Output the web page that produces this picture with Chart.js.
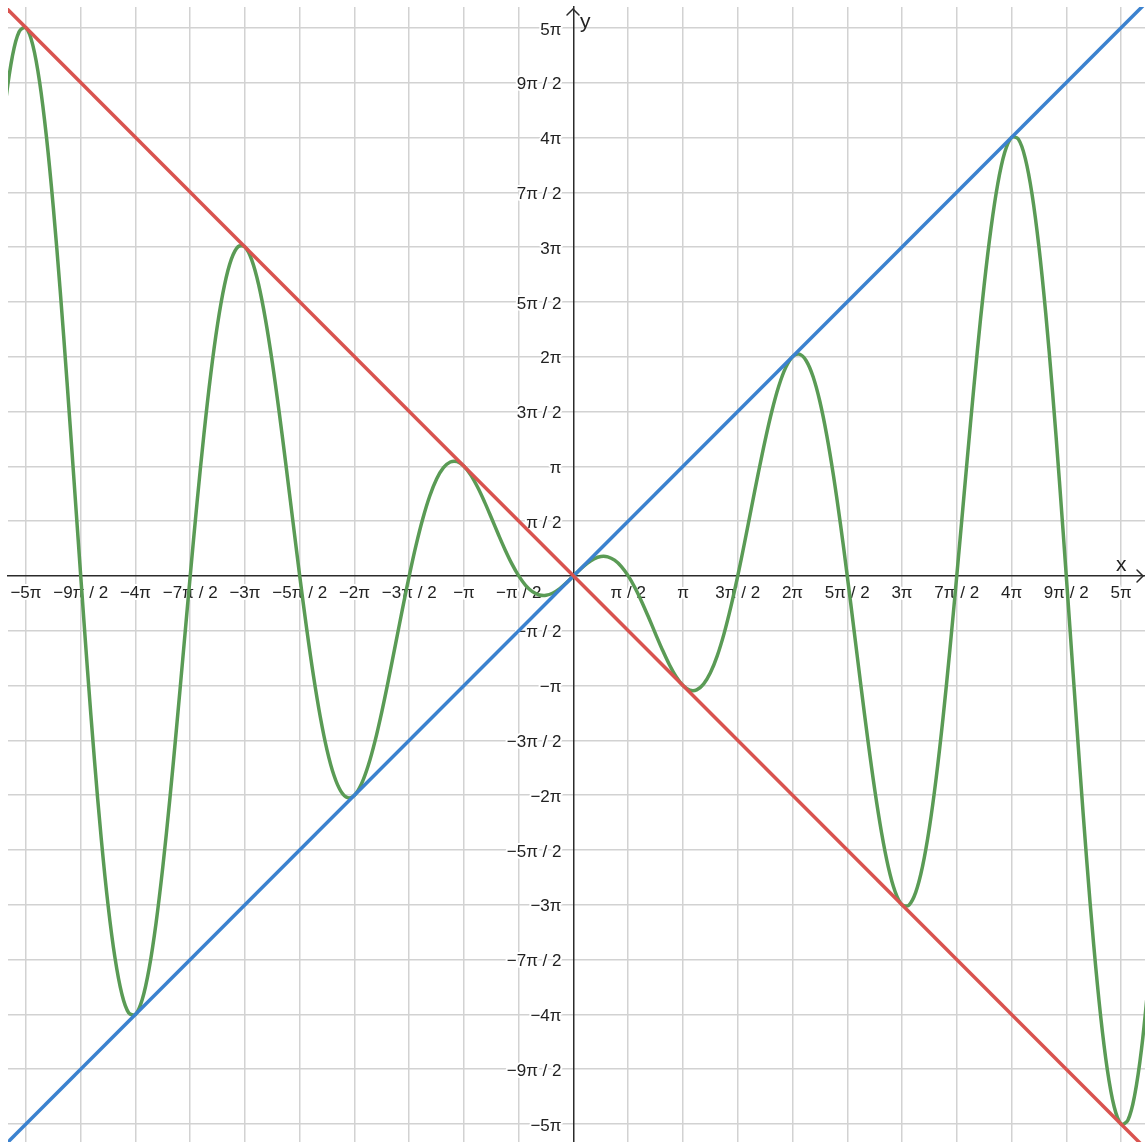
<!DOCTYPE html>
<html><head><meta charset="utf-8">
<script src="https://cdn.jsdelivr.net/npm/chart.js@4"></script>
<style>html,body{margin:0;padding:0;background:#fff;overflow:hidden}</style>
</head><body>
<canvas id="c" width="1145" height="1142"></canvas>
<script>
// All values are in units of π
const xRange = [-5.164, 5.219];
const yRange = [-5.164, 5.19];
const tickValues = [-5,-4.5,-4,-3.5,-3,-2.5,-2,-1.5,-1,-0.5,0.5,1,1.5,2,2.5,3,3.5,4,4.5,5];
const tickLabels = ["−5π","−9π / 2","−4π","−7π / 2","−3π","−5π / 2","−2π","−3π / 2","−π","−π / 2","π / 2","π","3π / 2","2π","5π / 2","3π","7π / 2","4π","9π / 2","5π"];

// y = x (blue) and y = −x (red)
const lineX = [-6, 6];
const blueY = [-6, 6];
const redY = [6, -6];

// green curve
const greenX = [-5.25,-5.1875,-5.125,-5.0625,-5,-4.9375,-4.875,-4.8125,-4.75,-4.6875,-4.625,-4.5625,-4.5,-4.4375,-4.375,-4.3125,-4.25,-4.1875,-4.125,-4.0625,-4,-3.9375,-3.875,-3.8125,-3.75,-3.6875,-3.625,-3.5625,-3.5,-3.4375,-3.375,-3.3125,-3.25,-3.1875,-3.125,-3.0625,-3,-2.9375,-2.875,-2.8125,-2.75,-2.6875,-2.625,-2.5625,-2.5,-2.4375,-2.375,-2.3125,-2.25,-2.1875,-2.125,-2.0625,-2,-1.9375,-1.875,-1.8125,-1.75,-1.6875,-1.625,-1.5625,-1.5,-1.4375,-1.375,-1.3125,-1.25,-1.1875,-1.125,-1.0625,-1,-0.9375,-0.875,-0.8125,-0.75,-0.6875,-0.625,-0.5625,-0.5,-0.4375,-0.375,-0.3125,-0.25,-0.1875,-0.125,-0.0625,0,
  0.0625,0.125,0.1875,0.25,0.3125,0.375,0.4375,0.5,0.5625,0.625,0.6875,0.75,0.8125,0.875,0.9375,1,1.0625,1.125,1.1875,1.25,1.3125,1.375,1.4375,1.5,1.5625,1.625,1.6875,1.75,1.8125,1.875,1.9375,2,2.0625,2.125,2.1875,2.25,2.3125,2.375,2.4375,2.5,2.5625,2.625,2.6875,2.75,2.8125,2.875,2.9375,3,3.0625,3.125,3.1875,3.25,3.3125,3.375,3.4375,3.5,3.5625,3.625,3.6875,3.75,3.8125,3.875,3.9375,4,4.0625,4.125,4.1875,4.25,4.3125,4.375,4.4375,4.5,4.5625,4.625,4.6875,4.75,4.8125,4.875,4.9375,5,5.0625,5.125,5.1875,5.25];
const greenY = [3.7123,4.3133,4.7349,4.9652,5,4.8427,4.5039,4.0015,3.3588,2.6042,1.7699,0.8901,0,-0.8657,-1.6742,-2.3959,-3.0052,-3.4818,-3.811,-3.9845,-4,-3.8619,-3.58,-3.17,-2.6517,-2.0487,-1.3872,-0.695,0,0.6706,1.2915,1.8403,2.2981,2.6503,2.8871,3.0037,3,2.8811,2.6562,2.3385,1.9446,1.4931,1.0045,0.4999,0,-0.4755,-0.9089,-1.2848,-1.591,-1.8188,-1.9632,-2.0229,-2,-1.9003,-1.7323,-1.507,-1.2374,-0.9375,-0.6219,-0.3048,0,0.2804,0.5262,0.7292,0.8839,0.9874,1.0394,1.0421,1,0.9195,0.8084,0.6756,0.5303,0.382,0.2392,0.1097,0,-0.0854,-0.1435,-0.1736,-0.1768,-0.1559,-0.1155,-0.0613,0,
  0.0613,0.1155,0.1559,0.1768,0.1736,0.1435,0.0854,0,-0.1097,-0.2392,-0.382,-0.5303,-0.6756,-0.8084,-0.9195,-1,-1.0421,-1.0394,-0.9874,-0.8839,-0.7292,-0.5262,-0.2804,0,0.3048,0.6219,0.9375,1.2374,1.507,1.7323,1.9003,2,2.0229,1.9632,1.8188,1.591,1.2848,0.9089,0.4755,0,-0.4999,-1.0045,-1.4931,-1.9446,-2.3385,-2.6562,-2.8811,-3,-3.0037,-2.8871,-2.6503,-2.2981,-1.8403,-1.2915,-0.6706,0,0.695,1.3872,2.0487,2.6517,3.17,3.58,3.8619,4,3.9845,3.811,3.4818,3.0052,2.3959,1.6742,0.8657,0,-0.8901,-1.7699,-2.6042,-3.3588,-4.0015,-4.5039,-4.8427,-5,-4.9652,-4.7349,-4.3133,-3.7123];

const pts = (xs, ys) => xs.map((v, i) => ({x: v, y: ys[i]}));

const FONT = '"Liberation Sans", Arial, sans-serif';
const AXIS = '#2b2b2b';
const GRID = '#d2d2d2';
const TEXT = '#222';

const setTicks = scale => { scale.ticks = tickValues.map(v => ({value: v})); };
const noPad = scale => { scale.paddingTop = 0; scale.paddingBottom = 0; scale.paddingLeft = 0; scale.paddingRight = 0; };

// tick labels next to the axes (drawn under the curves)
const axisLabels = {
  id: 'axisLabels',
  beforeDatasetsDraw(chart) {
    const {ctx, scales: {x, y}} = chart;
    const ox = x.getPixelForValue(0), oy = y.getPixelForValue(0);
    ctx.save();
    ctx.font = '17px ' + FONT;
    ctx.lineJoin = 'round';
    ctx.strokeStyle = '#fff'; ctx.lineWidth = 4; ctx.fillStyle = TEXT;
    ctx.textBaseline = 'middle';
    ctx.textAlign = 'center';
    x.ticks.forEach(t => {
      const i = tickValues.indexOf(t.value); if (i < 0) return;
      const px = x.getPixelForValue(t.value), py = oy + 17;
      ctx.strokeText(tickLabels[i], px, py); ctx.fillText(tickLabels[i], px, py);
    });
    ctx.textAlign = 'right';
    y.ticks.forEach(t => {
      const i = tickValues.indexOf(t.value); if (i < 0) return;
      const px = ox - 12, py = y.getPixelForValue(t.value) + 2;
      ctx.strokeText(tickLabels[i], px, py); ctx.fillText(tickLabels[i], px, py);
    });
    ctx.restore();
  }
};

const axisDecor = {
  id: 'axisDecor',
  afterDraw(chart) {
    const {ctx, chartArea, scales: {x, y}} = chart;
    const ox = Math.round(x.getPixelForValue(0)), oy = Math.round(y.getPixelForValue(0));
    ctx.save();
    ctx.strokeStyle = AXIS; ctx.lineWidth = 1.5; ctx.lineCap = 'round';
    const tx = chartArea.right - 2;
    ctx.beginPath(); ctx.moveTo(tx - 6, oy - 6); ctx.lineTo(tx, oy); ctx.lineTo(tx - 6, oy + 6); ctx.stroke();
    const ty = chartArea.top + 2;
    ctx.beginPath(); ctx.moveTo(ox - 6, ty + 6); ctx.lineTo(ox, ty); ctx.lineTo(ox + 6, ty + 6); ctx.stroke();
    ctx.fillStyle = TEXT; ctx.font = '21px ' + FONT; ctx.textBaseline = 'alphabetic'; ctx.textAlign = 'left';
    ctx.fillText('x', chartArea.right - 29, oy - 5);
    ctx.fillText('y', ox + 7, chartArea.top + 21);
    ctx.restore();
  }
};

new Chart(document.getElementById('c'), {
  type: 'line',
  data: {
    datasets: [
      {label: 'y = −x', data: pts(lineX, redY), borderColor: '#d9534f', borderWidth: 3.5, pointRadius: 0, clip: 0},
      {label: 'y = x', data: pts(lineX, blueY), borderColor: '#3b82cf', borderWidth: 3.5, pointRadius: 0, clip: 0},
      {label: 'curve', data: pts(greenX, greenY), borderColor: '#5a9b55', borderWidth: 3.5, pointRadius: 0, tension: 0.35, clip: 0}
    ]
  },
  options: {
    responsive: false,
    animation: false,
    events: [],
    layout: {padding: {left: 8, top: 7, right: 0, bottom: 0}},
    plugins: {legend: {display: false}, tooltip: {enabled: false}},
    scales: {
      x: {
        type: 'linear', position: {y: 0}, min: xRange[0], max: xRange[1],
        afterBuildTicks: setTicks, afterFit: noPad,
        grid: {color: GRID, lineWidth: 1.5, drawTicks: false, tickLength: 0},
        border: {display: true, color: AXIS, width: 1.5},
        ticks: {display: false}
      },
      y: {
        type: 'linear', position: {x: 0}, min: yRange[0], max: yRange[1],
        afterBuildTicks: setTicks, afterFit: noPad,
        grid: {color: GRID, lineWidth: 1.5, drawTicks: false, tickLength: 0},
        border: {display: true, color: AXIS, width: 1.5},
        ticks: {display: false}
      }
    }
  },
  plugins: [axisLabels, axisDecor]
});
</script>
</body></html>
